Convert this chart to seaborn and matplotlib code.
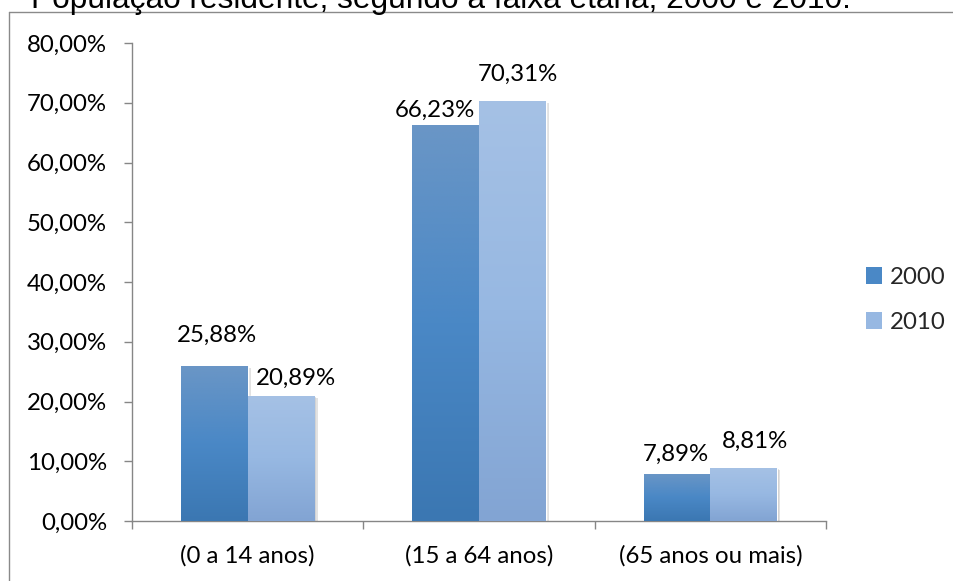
import numpy as np
import pandas as pd
import matplotlib
matplotlib.use("Agg")
import matplotlib.pyplot as plt
import matplotlib.patheffects as pe
from matplotlib.colors import LinearSegmentedColormap
from matplotlib.lines import Line2D
from matplotlib.ticker import FixedLocator
import seaborn as sns

# Data
categories = ["(0 a 14 anos)", "(15 a 64 anos)", "(65 anos ou mais)"]
years = ["2000", "2010"]
values_2000 = [25.88, 66.23, 7.89]
values_2010 = [20.89, 70.31, 8.81]
y_ticks = [0, 10, 20, 30, 40, 50, 60, 70, 80]
title = "População residente, segundo a faixa etária, 2000 e 2010."

df = pd.DataFrame({
    "faixa": categories * 2,
    "ano": [years[0]] * 3 + [years[1]] * 3,
    "valor": [v / 100 for v in values_2000 + values_2010],
})

sns.set_theme(style="white")
plt.rcParams["font.family"] = ["Lato", "DejaVu Sans"]
FS = 17.3

W, H = 954, 581
fig = plt.figure(figsize=(W / 100, H / 100), dpi=100)
ax = fig.add_axes([132 / W, 1 - 521 / H, (826 - 132) / W, (521 - 43) / H])

base_colors = {"2000": "#4a86c2", "2010": "#95b6e0"}
sns.barplot(data=df, x="faixa", y="valor", hue="ano", order=categories,
            hue_order=years, palette=base_colors, width=0.575, saturation=1,
            ax=ax, legend=False)

# Gradient fill and soft shadow on each bar
gradients = {
    "2000": ["#3b77b2", "#4a88c6", "#6a96c6"],
    "2010": ["#82a4d3", "#97b8e2", "#a5c1e5"],
}
grad = np.linspace(0, 1, 256).reshape(-1, 1)
for container, year in zip(ax.containers, years):
    cmap = LinearSegmentedColormap.from_list("g" + year, gradients[year])
    for bar in container:
        bar.set_path_effects([
            pe.SimplePatchShadow(offset=(2.5, -1.5), shadow_rgbFace="#8f8f8f", alpha=0.25),
            pe.SimplePatchShadow(offset=(1.2, -0.8), shadow_rgbFace="#7f7f7f", alpha=0.25),
            pe.Normal()])
        x0, y0 = bar.get_x(), bar.get_y()
        w, h = bar.get_width(), bar.get_height()
        im = ax.imshow(grad, cmap=cmap, origin="lower", aspect="auto",
                       extent=[x0, x0 + w, y0, y0 + h], zorder=3,
                       interpolation="bicubic")
        im.set_clip_path(bar)
ax.set_xlim(-0.5, 2.5)
ax.set_ylim(0, 0.8)

# Value labels (offsets in pixels from the bar top centre)
label_offsets = {
    ("2000", 0): (3, 31), ("2010", 0): (15, 18),
    ("2000", 1): (-11, 15), ("2010", 1): (6, 27),
    ("2000", 2): (-1, 20), ("2010", 2): (11, 27),
}
px = 72 / 100
for container, year, vals in zip(ax.containers, years, [values_2000, values_2010]):
    for i, (bar, v) in enumerate(zip(container, vals)):
        dx, dy = label_offsets[(year, i)]
        ax.annotate(f"{v:.2f}%".replace(".", ","),
                    (bar.get_x() + bar.get_width() / 2, bar.get_height()),
                    xytext=(dx * px, dy * px), textcoords="offset points",
                    ha="center", va="center", fontsize=FS, color="black",
                    zorder=5)

# Axes styling
axis_color = "#868686"
for side in ["top", "right"]:
    ax.spines[side].set_visible(False)
for side in ["left", "bottom"]:
    ax.spines[side].set_color(axis_color)
    ax.spines[side].set_linewidth(1.0)

ax.set_yticks([t / 100 for t in y_ticks])
ax.yaxis.set_major_formatter(plt.FuncFormatter(lambda v, _: f"{v * 100:.2f}%".replace(".", ",")))
ax.tick_params(axis="y", length=6, width=1, color=axis_color, pad=12,
               labelsize=FS, labelcolor="black", left=True)

ax.xaxis.set_major_locator(FixedLocator([-0.5, 0.5, 1.5, 2.5]))
ax.xaxis.set_minor_locator(FixedLocator([0, 1, 2]))
ax.set_xticklabels([], minor=False)
ax.set_xticklabels(categories, minor=True)
ax.tick_params(axis="x", which="major", length=6, width=1, color=axis_color,
               bottom=True)
ax.tick_params(axis="x", which="minor", length=0, pad=17, labelsize=FS,
               labelcolor="black")
ax.set_xlabel("")
ax.set_ylabel("")
ax.grid(False)

# Legend
handles = [plt.Rectangle((0, 0), 1, 1, facecolor=gradients[y][1], edgecolor="none")
           for y in years]
fig.legend(handles, years, loc="center left",
           bbox_to_anchor=(866 / W, 1 - 300 / H), frameon=False,
           fontsize=FS, handlelength=0.68, handleheight=0.68,
           handletextpad=0.33, labelspacing=1.0, borderpad=0,
           borderaxespad=0)

# Chart frame and heading above it
frame_color = "#8a8a8a"
fig.add_artist(Line2D([9.5 / W, 9.5 / W], [0, 1 - 12 / H], color=frame_color,
                      lw=1.0, transform=fig.transFigure))
fig.add_artist(Line2D([9.5 / W, 1], [1 - 12 / H, 1 - 12 / H], color=frame_color,
                      lw=1.0, transform=fig.transFigure))
fig.text(31 / W, 1 - 8 / H, title, family=["Liberation Sans", "DejaVu Sans"],
         fontsize=22.8, va="baseline", ha="left", color="black")

fig.savefig("out.png", dpi=100)
